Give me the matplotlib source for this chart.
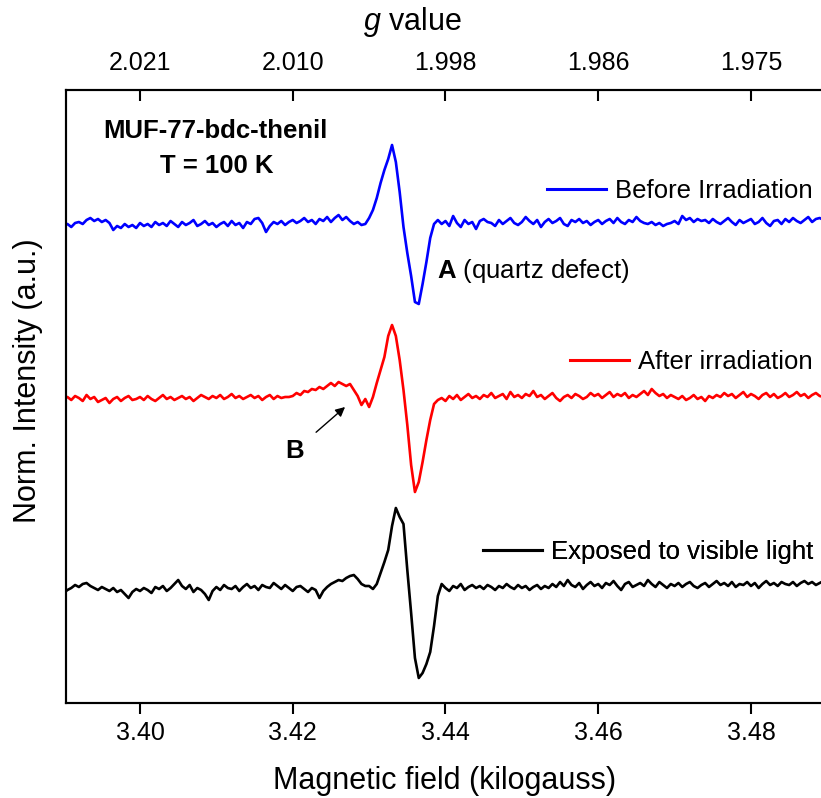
import numpy as np
import matplotlib
matplotlib.use('Agg')
import matplotlib.pyplot as plt
from matplotlib.lines import Line2D

plt.rcParams['font.family'] = ['Liberation Sans', 'DejaVu Sans']
plt.rcParams['mathtext.fontset'] = 'custom'
plt.rcParams['mathtext.rm'] = 'Liberation Sans'
plt.rcParams['mathtext.it'] = 'Liberation Sans:italic'
plt.rcParams['mathtext.bf'] = 'Liberation Sans:bold'

# ---------------- data ----------------
field_start = 3.3900   # kilogauss
field_step = 0.0005    # kilogauss per point

before_irradiation = (
    [-2, 0, -3, 1, 2, 0, 4] + [6, 3, 5] + [2, 4, 1] + [-6]
    + [-2, -4, 0, -3, -1, -4, 1]
    + [-2, 0, -3, 2, -1, 1, -2, 3, 0, -3]
    + [2, -1, 1, 4, -2, 0, 3, -1, 1, -3]
    + [0, 2, -2, 3, -1, 1, -4, 2, 0, 5]
    + [6, 1, -8, -2, 2] + [0, 3, -1, 2, 4]
    + [1, 3, 6, 2, 4, 0, 5, 3, 7, 2]
    + [6, 9, 4, 7, 3, 0, 2, -1, 0]
    + [6, 14, 26, 41, 54, 65, 79, 62, 32, -3, -29, -52, -78, -80, -60, -38, -14, 0, 4]
    + [0, 3, -2, 8, 1, -3, 4, 0, 2, -5, 3]
    + [5, 2, 1, -2, 4, 0, 3, 6, 1, -1]
    + [2, 7, 3, 0, 4, -3, 2, 5, 1, 3]
    + [6, 0, -2, 4, 2, 5, 1, 3, -1, 2]
    + [4, 0, 3, 5, 1, 6, 2, 0, 4, 2]
    + [7, 3, 1, 0, 2, -1, 1, -2, 0, 1]
    + [3, 0, 8, 4, 6, 2, 5, 3, 4, 1]
    + [5, 2, 0, 3, 6, 2, -1, 4, 1, 3]
    + [5, 0, 2, 6, 1, -2, 3, 4, 0, 5]
    + [2, 6, 3, 1, 4, 7, 2, 5, 6, 4]
)

after_irradiation = (
    [0, 2, -1, 3, 1, -2, 4, 0, 2, -3]
    + [-1, 1, -4, 0, 2, -2, 1, 3, -1, 0]
    + [2, -1, 3, 0, -2, 1, 4, 0, 2, -1]
    + [1, 3, 0, 2, -2, 1, 4, 2, 0, 3]
    + [1, 4, 0, 2, 5, 1, 3, 0, 2, 4]
    + [1, 3, -1, 2, 4, 0, 3, 1, 2]
    + [2, 3, 6, 4, 8, 7, 10, 9, 12, 10, 13, 16, 13, 17, 15, 13, 15, 9, 3, -6, 0]
    + [-8, 2, 16, 29, 42, 63, 74, 63, 39, 9, -26, -66, -93, -83, -63, -41, -21, -5, -1]
    + [1, -2, 3, 0, 4, -1, 2, 5, 1, 3, 0]
    + [4, 2, 6, 1, 3, 5, 0, 7, 2, 4]
    + [1, 5, 3, 8, 2, 4, 0, 3, 6, 1]
    + [-2, 2, 4, 1, 5, 3, 0, 2, 6, 3]
    + [5, 1, 4, 7, 2, 5, 3, 6, 1, 4]
    + [2, 5, 8, 4, 10, 6, 3, 5, 1, 4]
    + [2, 0, 3, -1, 1, 4, 0, 2, -2, 3]
    + [1, 4, 2, 6, 3, 5, 1, 4, 7, 2]
    + [5, 3, 0, 4, 6, 2, 5, 1, 3, 6]
    + [2, 4, 7, 3, 5, 1, 4, 6, 3, 2]
)

visible_light = (
    [-5, -2, 0, 3, 1, 4, 5, 2, 0, -2]
    + [1, -1, -3, 0, -4, -2, -6, -10, -4, -1]
    + [-3, 0, -2, -5, 1, -1, 2, -3, 0, 4]
    + [8, 2, -1, 3, -4, 0, -2, -6, -12, -3]
    + [1, -2, 3, 0, -1, 2, -3, 1, 4, 0]
    + [2, -2, 3, 1, 0, 5, 2, -1, 3, 0]
    + [-3, 1, 2, -1, -4, 0, -2, -10, -3, 1]
    + [4, 6, 8, 7, 10, 12, 13, 9, 4, 2]
    + [2, -1, 4, 15, 26, 38, 62, 80, 71, 64, 18, -25, -70, -90, -85, -76, -64, -38, -8, 4, 0]
    + [-3, 2, 0, 4, -2, 1, 3, 0, 2]
    + [-1, 3, 1, -2, 2, 0, 4, 1, -1, 3]
    + [0, 2, -2, 1, 3, -1, 2, 0, 4, 1]
    + [6, 2, 8, 3, 1, 5, -1, 3, 6, 2]
    + [4, 0, 5, 3, 7, 2, -2, 4, 6, 1]
    + [3, 5, 2, 8, 4, 1, 6, 3, 0, 4]
    + [2, 5, 1, 4, 6, 2, 0, 3, 5, 1]
    + [4, 7, 3, 5, 2, 6, 1, 4, 3, 6]
    + [2, 5, 0, 4, 7, 3, 5, 2, 6, 4]
    + [3, 6, 2, 5, 7, 4, 6, 3, 5, 7]
)

series_values = [before_irradiation, after_irradiation, visible_light]
series_labels = ['Before Irradiation', 'After irradiation', 'Exposed to visible light']
series_colors = ['#0000FF', '#FF0000', '#000000']
series_offsets = [0, -175, -364]

x_ticks = [3.40, 3.42, 3.44, 3.46, 3.48]
x_tick_labels = ['3.40', '3.42', '3.44', '3.46', '3.48']
g_tick_labels = ['2.021', '2.010', '1.998', '1.986', '1.975']

# ---------------- figure ----------------
W, H = 821, 798
fig = plt.figure(figsize=(W / 100, H / 100), dpi=100)
L, R, T, B = 66, 823, 90, 703
ax = fig.add_axes([L / W, (H - B) / H, (R - L) / W, (B - T) / H])

for vals, off, col in zip(series_values, series_offsets, series_colors):
    x = field_start + field_step * np.arange(len(vals))
    ax.plot(x, np.asarray(vals) + off, color=col, lw=1.9, solid_joinstyle='round')

xlim = (3.39031, 3.48943)
ax.set_xlim(*xlim)
ax.set_ylim(-479, 134)
ax.set_yticks([])
ax.set_xticks(x_ticks)
ax.set_xticklabels(x_tick_labels)
ax.tick_params(axis='x', direction='out', length=8, width=1.5, labelsize=18, pad=5)
for s in ['left', 'bottom', 'top']:
    ax.spines[s].set_linewidth(1.5)
ax.spines['right'].set_visible(False)

ax2 = ax.twiny()
ax2.set_xlim(*xlim)
ax2.set_xticks(x_ticks)
ax2.set_xticklabels(g_tick_labels)
ax2.tick_params(axis='x', direction='in', length=8, width=1.5, labelsize=18, pad=11)
ax2.spines['right'].set_visible(False)
for s in ['left', 'bottom', 'top']:
    ax2.spines[s].set_linewidth(1.5)

ax.set_xlabel('Magnetic field (kilogauss)', fontsize=22)
ax.xaxis.set_label_coords(0.5, -0.102)
ax.set_ylabel('Norm. Intensity (a.u.)', fontsize=22)
ax.yaxis.set_label_coords(-0.030, 0.525)
fig.text(412 / W, 1 - 22 / H, r'$g$ value', fontsize=22, ha='center', va='center')

# inner annotations
ax.text(3.4099, 93, 'MUF-77-bdc-thenil', fontsize=18.5, fontweight='bold', ha='center', va='center')
ax.text(3.4101, 58, 'T = 100 K', fontsize=18.5, fontweight='bold', ha='center', va='center')
ax.text(3.4389, -47, r'$\mathbf{A}$ (quartz defect)', fontsize=18.5, ha='left', va='center')
ax.annotate('B', xy=(3.42685, -183), xytext=(3.42024, -227), fontsize=18.5, fontweight='bold',
            ha='center', va='center',
            arrowprops=dict(arrowstyle='-|>', color='black', lw=1.0, mutation_scale=14,
                            shrinkA=9, shrinkB=0))

# per-series legends
legend_y = [33, -138, -328]
for lab, col, ly in zip(series_labels, series_colors, legend_y):
    h = Line2D([], [], color=col, lw=2.2)
    yfrac = (ly - (-479)) / (134 - (-479))
    xfrac = (813 - L) / (R - L)
    leg = ax.legend([h], [lab], loc='center right', bbox_to_anchor=(xfrac, yfrac),
                    frameon=False, fontsize=18.5, handlelength=2.3, handletextpad=0.35,
                    borderpad=0, borderaxespad=0)
    ax.add_artist(leg)

fig.savefig('out.png', dpi=100)
